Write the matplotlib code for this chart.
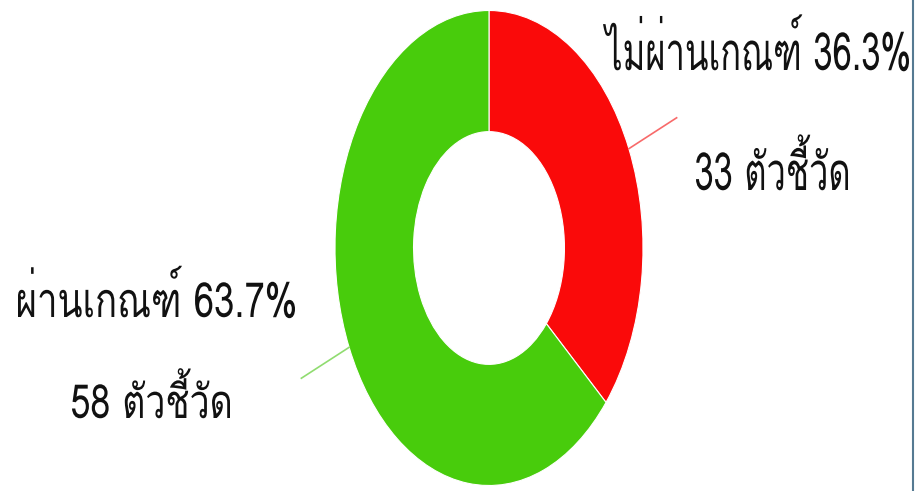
import numpy as np
import matplotlib
matplotlib.use('Agg')
import matplotlib.pyplot as plt
from matplotlib.font_manager import FontProperties
from matplotlib.textpath import TextPath
from matplotlib.patches import PathPatch
from matplotlib.transforms import Affine2D
from matplotlib.lines import Line2D

# data
labels = ['ไม่ผ่านเกณฑ์', 'ผ่านเกณฑ์']
counts = [33, 58]
unit = 'ตัวชี้วัด'
colors = ['#fa0a0a', '#48cc0c']
line_colors = ['#f86a6a', '#90dc70']

total = sum(counts)
percents = [c / total * 100 for c in counts]

W, H = 922, 491
fig = plt.figure(figsize=(W / 100, H / 100), dpi=100)

# donut (image is squashed sideways, so the ring is an ellipse)
cx, cy = 489, 248
rx, ry = 154, 237.5
ax = fig.add_axes([0, 0, 1, 1])
wedges, _ = ax.pie(counts, colors=colors, startangle=90, counterclock=False,
                   radius=1, wedgeprops=dict(width=0.51, edgecolor='white', linewidth=0.8))
ax.set_aspect('auto')
ax.set_xlim(-cx / rx, (W - cx) / rx)
ax.set_ylim((cy - H) / ry, cy / ry)
ax.axis('off')

# leader lines
for w, lc in zip(wedges, line_colors):
    mid = np.deg2rad((w.theta1 + w.theta2) / 2)
    x0, y0 = np.cos(mid), np.sin(mid)
    x1 = x0 + 0.31 * np.sign(x0)
    y1 = y0 + 0.13 * np.sign(y0)
    ax.plot([x0, x1], [y0, y1], color=lc, lw=1.2)

# text, drawn as condensed paths in pixel coords
tax = fig.add_axes([0, 0, 1, 1])
tax.set_xlim(0, W)
tax.set_ylim(H, 0)
tax.axis('off')
tax.patch.set_alpha(0)

fp = FontProperties(family=['Loma', 'DejaVu Sans'])
digit_ext = TextPath((0, 0), '3', size=100, prop=fp).get_extents()
digit_h = digit_ext.y1 - digit_ext.y0


def put_text(s, left, right, base, h):
    tp = TextPath((0, 0), s, size=100, prop=fp)
    ext = tp.get_extents()
    sx = (right - left) / (ext.x1 - ext.x0)
    sy = h / digit_h
    tr = Affine2D().translate(-ext.x0, 0).scale(sx, -sy).translate(left, base)
    tax.add_patch(PathPatch(tr.transform_path(tp), facecolor='#111111',
                            edgecolor='none'))


# (left, right, baseline, digit height) for the two lines of each label
boxes = [
    [(603, 909, 70, 38), (696, 848, 190, 38)],
    [(18, 295, 317, 35), (72, 230, 418, 34)],
]
for i in range(len(labels)):
    b1, b2 = boxes[i]
    put_text('%s %.1f%%' % (labels[i], percents[i]), *b1)
    put_text('%d %s' % (counts[i], unit), *b2)

# frame line on the right
fig.add_artist(Line2D([912.5 / W, 912.5 / W], [0, 1], color='#557a92', lw=1.5))

fig.savefig('out.png', dpi=100)
